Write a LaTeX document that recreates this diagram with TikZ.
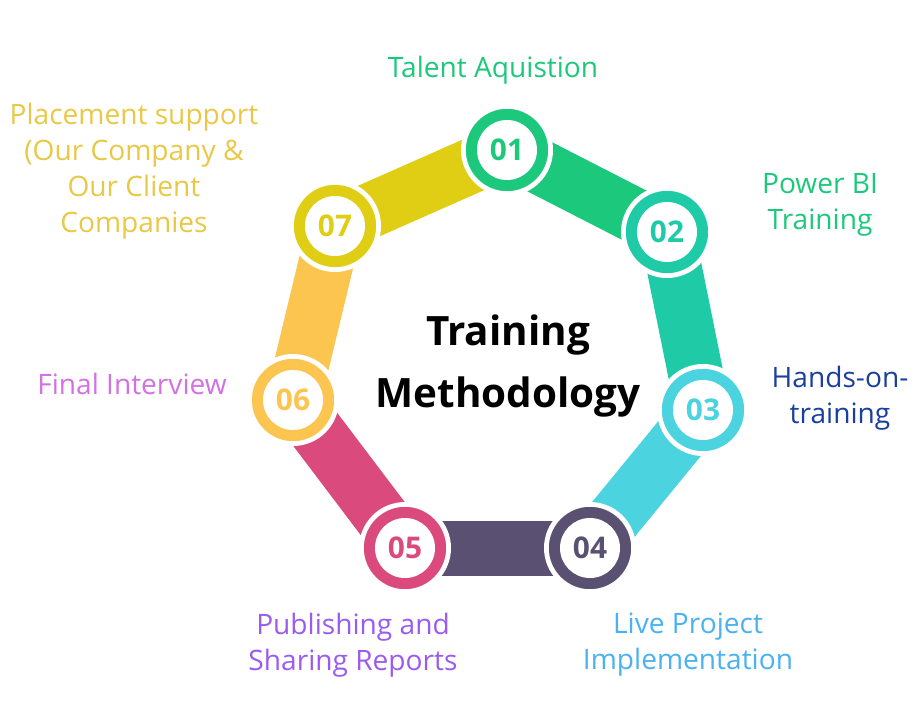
\documentclass[tikz,border=0pt]{standalone}
\usepackage{fontspec}
\setmainfont{Open Sans}
\usetikzlibrary{calc}
\definecolor{cA}{HTML}{1CC97C}
\definecolor{cB}{HTML}{1ECBA6}
\definecolor{cC}{HTML}{4BD3E0}
\definecolor{cD}{HTML}{5A5072}
\definecolor{cE}{HTML}{DA4A7C}
\definecolor{cF}{HTML}{FCC550}
\definecolor{cG}{HTML}{E0CE14}
\definecolor{tB}{HTML}{1A3F9C}
\definecolor{tD}{HTML}{4AB2F2}
\definecolor{tE}{HTML}{9A5CF0}
\definecolor{tF}{HTML}{D272E2}
\definecolor{tG}{HTML}{E9C845}
\begin{document}
\begin{tikzpicture}[x=0.02cm,y=-0.02cm]
     \tikzstyle{band_style} = [line width=1.1cm,line cap=butt]
     \tikzstyle{step_style} = [circle,draw=white,line width=2pt,minimum size=1.72cm,inner sep=0pt]
     \tikzstyle{label_style} = [align=center,font=\fontsize{16}{20.5}\selectfont]
     \useasboundingbox (0,0) rectangle (922,720);
     \coordinate (p1) at (507,150);
     \coordinate (p2) at (667,232);
     \coordinate (p3) at (703,410);
     \coordinate (p4) at (590,548);
     \coordinate (p5) at (405,548);
     \coordinate (p6) at (293,400);
     \coordinate (p7) at (335,226);
     \draw[band_style,cA] (p1) -- (p2);
     \draw[band_style,cB] (p2) -- (p3);
     \draw[band_style,cC] (p3) -- (p4);
     \draw[band_style,cD] (p4) -- (p5);
     \draw[band_style,cE] (p5) -- (p6);
     \draw[band_style,cF] (p6) -- (p7);
     \draw[band_style,cG] (p7) -- (p1);
     \foreach \i/\c in {1/cA,2/cB,3/cC,4/cD,5/cE,6/cF,7/cG} {
       \fill[white] (p\i) circle (46);
       \node[step_style,fill=\c] (s\i) at (p\i) {};
       \fill[white] (p\i) circle (30);
       \node[text=\c,font=\bfseries\fontsize{17}{17}\selectfont] (n\i) at (p\i) {0\i};
     }
     \node[align=center,font=\bfseries\fontsize{23}{35}\selectfont] (title) at (508,366) {Training\\Methodology};
     \node[label_style,text=cA] (l1) at (493,70) {Talent Aquistion};
     \node[label_style,text=cA] (l2) at (820,205) {Power BI\\Training};
     \node[label_style,text=tB] (l3) at (840,398) {Hands-on-\\training};
     \node[label_style,text=tD] (l4) at (688,645) {Live Project\\Implementation};
     \node[label_style,text=tE] (l5) at (353,645) {Publishing and\\Sharing Reports};
     \node[label_style,text=tF] (l6) at (132,384) {Final Interview};
     \node[label_style,text=tG] (l7) at (134,171) {Placement support\\(Our Company \&\\Our Client\\Companies};
\end{tikzpicture}
\end{document}
